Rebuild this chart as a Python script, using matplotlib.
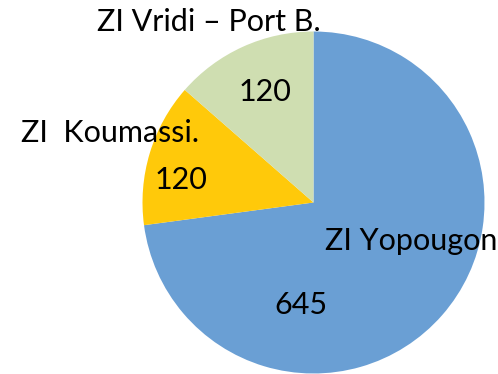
import matplotlib.pyplot as plt

labels = ["ZI Yopougon", "ZI  Koumassi.", "ZI Vridi \u2013 Port B."]
values = [645, 120, 120]
colors = ["#6a9fd4", "#ffc90a", "#cfdeb1"]

H = 374
# label and value positions in pixel coords (measured from top)
label_pos = [(325, 241, "left"), (110, 133, "center"), (209, 22, "center")]
value_pos = [(301, 305), (181, 180), (265, 92)]

plt.rcParams["font.family"] = ["Lato", "DejaVu Sans"]

fig = plt.figure(figsize=(4.98, 3.74), dpi=100)
ax = fig.add_axes([0, 0, 1, 1])

ax.pie(values, colors=colors, startangle=90, counterclock=False,
       center=(313.5, H - 202.5), radius=171, frame=True,
       wedgeprops=dict(linewidth=0))
ax.set_xlim(0, 498)
ax.set_ylim(0, H)
ax.set_aspect("equal")
ax.axis("off")

for (x, y, ha), lab in zip(label_pos, labels):
    ax.text(x, H - y, lab, ha=ha, va="center", fontsize=22)
for (x, y), v in zip(value_pos, values):
    ax.text(x, H - y, str(v), ha="center", va="center", fontsize=22)

fig.savefig("out.png", dpi=100)
